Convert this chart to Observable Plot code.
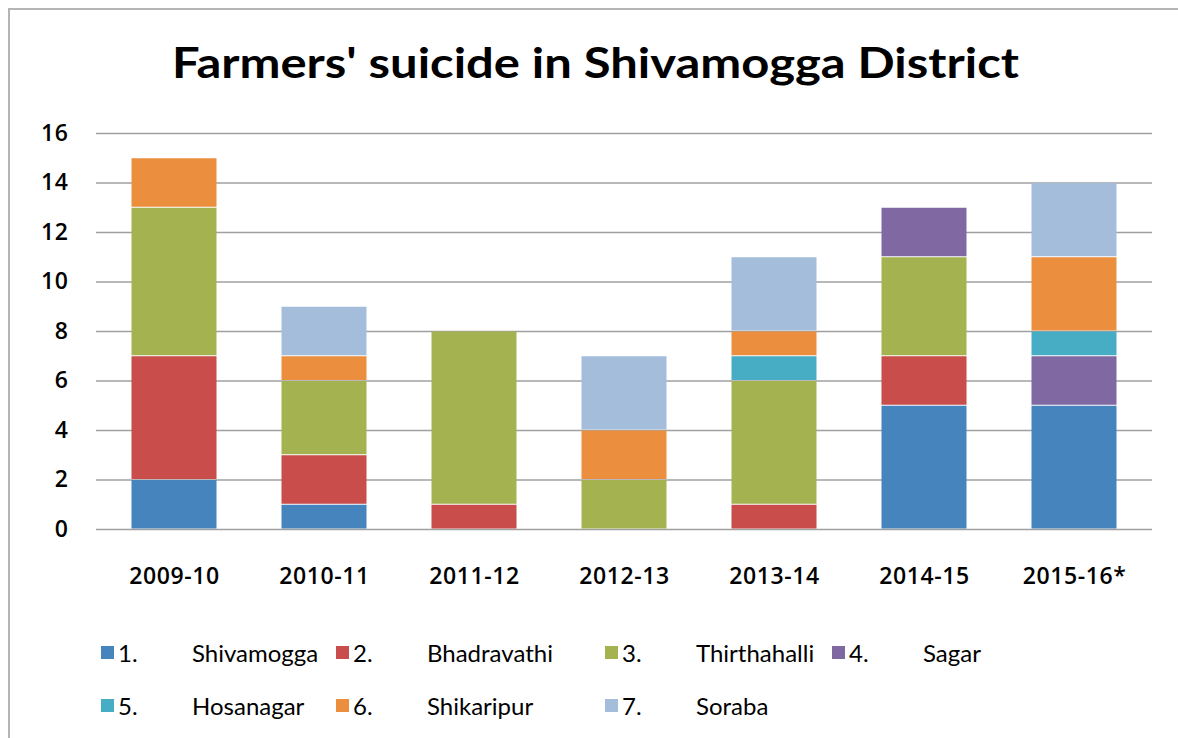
<!DOCTYPE html>
<html>
<head>
<meta charset="utf-8">
<script src="https://cdn.jsdelivr.net/npm/d3@7"></script>
<script src="https://cdn.jsdelivr.net/npm/@observablehq/plot@0.6"></script>
<style>
  html, body { margin: 0; padding: 0; background: #fff; }
  body { width: 1178px; height: 738px; position: relative; overflow: hidden; font-family: Lato, "Open Sans", sans-serif; }
  #frame { position: absolute; left: 8px; top: 8px; width: 1300px; height: 900px; border-left: 2px solid #b4b4b4; border-top: 2px solid #b4b4b4; }
  #title { position: absolute; left: 0; top: 37px; width: 1191px; text-align: center; font: bold 42px Lato, sans-serif; color: #000; transform: scaleX(1.165); transform-origin: 595.5px 0; }
  #chart { position: absolute; left: 0; top: 110px; }
  #chart svg text { font-family: "Open Sans", Lato, sans-serif; font-weight: 600; letter-spacing: 0.6px; }
  #legend { position: absolute; left: 101px; top: 638px; display: grid; grid-template-columns: 235px 269px 227px auto; row-gap: 25px; font-size: 24px; color: #000; }
  .item { display: flex; align-items: center; height: 28px; white-space: nowrap; }
  .sw { width: 13px; height: 13px; margin-right: 4px; }
  .num { width: 74px; }
</style>
</head>
<body>
<div id="frame"></div>
<div id="title">Farmers' suicide in Shivamogga District</div>
<div id="chart"></div>
<div id="legend"></div>
<script>
const years = ["2009-10", "2010-11", "2011-12", "2012-13", "2013-14", "2014-15", "2015-16*"];
const districtNumbers = ["1.", "2.", "3.", "4.", "5.", "6.", "7."];
const districts = ["Shivamogga", "Bhadravathi", "Thirthahalli", "Sagar", "Hosanagar", "Shikaripur", "Soraba"];
const colors = ["#4684BD", "#C84D4B", "#A4B350", "#8069A3", "#46ADC4", "#EB8F3E", "#A3BDDB"];

const shivamogga   = [2, 1, 0, 0, 0, 5, 5];
const bhadravathi  = [5, 2, 1, 0, 1, 2, 0];
const thirthahalli = [6, 3, 7, 2, 5, 4, 0];
const sagar        = [0, 0, 0, 0, 0, 2, 2];
const hosanagar    = [0, 0, 0, 0, 1, 0, 1];
const shikaripur   = [2, 1, 0, 2, 1, 0, 3];
const soraba       = [0, 2, 0, 3, 3, 0, 3];
const yTicks = [0, 2, 4, 6, 8, 10, 12, 14, 16];

const series = [shivamogga, bhadravathi, thirthahalli, sagar, hosanagar, shikaripur, soraba];
const rows = [];
series.forEach((vals, i) => {
  vals.forEach((v, j) => rows.push({year: years[j], district: districts[i], value: v}));
});

const chart = Plot.plot({
  width: 1178,
  height: 480,
  marginLeft: 96,
  marginRight: 26,
  marginTop: 23,
  marginBottom: 61,
  style: {fontFamily: "'Open Sans', sans-serif", fontSize: "23px", color: "#000", background: "transparent"},
  x: {domain: years, paddingInner: 0.43, paddingOuter: 0.215, label: null, tickSize: 0, tickPadding: 38},
  y: {domain: [0, 16], ticks: yTicks, label: null, tickSize: 0, tickPadding: 28},
  color: {domain: districts, range: colors},
  marks: [
    Plot.ruleY(yTicks, {stroke: "#a0a0a0", strokeWidth: 1.3}),
    Plot.barY(rows, {x: "year", y: "value", fill: "district", order: districts, inset: 0.5})
  ]
});
document.getElementById("chart").appendChild(chart);

const legend = document.getElementById("legend");
districts.forEach((d, i) => {
  const item = document.createElement("div");
  item.className = "item";
  item.innerHTML = `<span class="sw" style="background:${colors[i]}"></span><span class="num">${districtNumbers[i]}</span><span>${d}</span>`;
  legend.appendChild(item);
});
</script>
</body>
</html>
